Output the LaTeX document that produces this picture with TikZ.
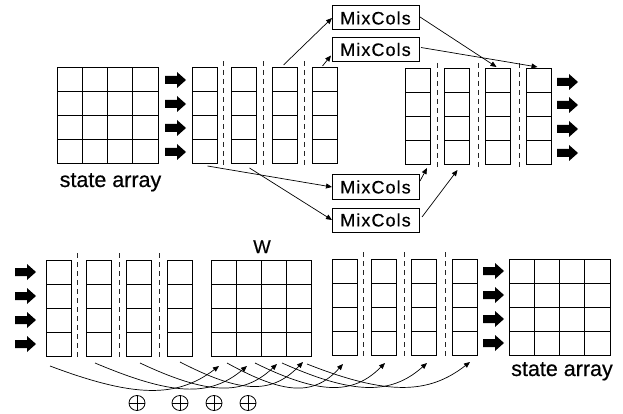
\documentclass[tikz,border=0pt]{standalone}
\usepackage{fontspec}
\setmainfont{Liberation Sans}[FakeBold=0.5]
\usetikzlibrary{arrows.meta,calc}
\begin{document}
\begin{tikzpicture}[x=1pt,y=-1pt,
  colbox/.style={draw, line width=1pt, minimum width=25pt, minimum height=96pt, inner sep=0pt, outer sep=0pt, anchor=north west,
    path picture={\foreach \k in {1,2,3}{\draw[line width=1pt] ($(path picture bounding box.north west)!\k/4!(path picture bounding box.south west)$) -- ($(path picture bounding box.north east)!\k/4!(path picture bounding box.south east)$);}}},
  matbox/.style={draw, line width=1pt, minimum width=101pt, minimum height=96pt, inner sep=0pt, outer sep=0pt, anchor=north west,
    path picture={\foreach \k in {1,2,3}{\draw[line width=1pt] ($(path picture bounding box.north west)!\k/4!(path picture bounding box.south west)$) -- ($(path picture bounding box.north east)!\k/4!(path picture bounding box.south east)$);
      \draw[line width=1pt] ($(path picture bounding box.north west)!\k/4!(path picture bounding box.north east)$) -- ($(path picture bounding box.south west)!\k/4!(path picture bounding box.south east)$);}}},
  mixbox/.style={draw, line width=1pt, minimum width=87pt, minimum height=24pt, inner sep=0pt, outer sep=0pt,
    font=\fontsize{18}{20}\selectfont\addfontfeature{LetterSpace=6}},
  sep/.style={line width=1pt, dash pattern=on 5pt off 4pt, black!85},
  conn/.style={line width=0.7pt, -{Triangle[length=6pt,width=5pt]}},
  satext/.style={font=\fontsize{21.5}{24}\selectfont, anchor=base, inner sep=0pt},
  bigarrow/.pic={\fill (0,-4) -- (12,-4) -- (12,-8) -- (21,0) -- (12,8) -- (12,4) -- (0,4) -- cycle;}
]
\useasboundingbox (0,0) rectangle (623,414);

% ---------- top row ----------
\node[matbox] (sa1) at (57,68) {};
\node[satext] (sa1t) at (110.5,187) {state array};
\foreach \yy in {80,104,128,152} \pic at (165,\yy) {bigarrow};

\node[colbox] (t1) at (192,68) {};
\node[colbox] (t2) at (231,68) {};
\node[colbox] (t3) at (272,68) {};
\node[colbox] (t4) at (312,68) {};
\node[colbox] (t5) at (405,69) {};
\node[colbox] (t6) at (444,69) {};
\node[colbox] (t7) at (485,69) {};
\node[colbox] (t8) at (526,69) {};
\foreach \xx in {223,263,304} \draw[sep] (\xx,61) -- (\xx,167);
\foreach \xx in {437,478,519} \draw[sep] (\xx,63) -- (\xx,168);
\foreach \yy in {82,105,129,153} \pic at (557,\yy) {bigarrow};

\node[mixbox] (m1) at (375.5,18) {MixCols};
\node[mixbox] (m2) at (375.5,49.5) {MixCols};
\node[mixbox] (m3) at (375.5,187) {MixCols};
\node[mixbox] (m4) at (375.5,220) {MixCols};

\draw[conn] ($(t3.north)+(-1,-3)$) -- (m1.west);
\draw[conn] ($(t4.north)+(-2,-2)$) -- ($(m2.south west)+(-1,-6)$);
\draw[conn] ($(m1.east)+(1,-1)$) -- ($(t7.north)+(-1,-2)$);
\draw[conn] ($(m2.east)+(2,-2)$) -- ($(t8.north)+(-1,-2)$);
\draw[conn] ($(t1.south)+(3,2)$) -- (m3.west);
\draw[conn] ($(t2.south)+(6,4)$) -- (m4.west);
\draw[conn] ($(m3.east)+(1,-6)$) -- ($(t5.south east)+(-3,3)$);
\draw[conn] ($(m4.east)+(3,-3)$) -- ($(t6.south)+(1,5)$);

% ---------- bottom row ----------
\foreach \yy in {272,296,320,344} \pic at (15,\yy) {bigarrow};
\node[colbox] (b1) at (46,260) {};
\node[colbox] (b2) at (86,260) {};
\node[colbox] (b3) at (126,260) {};
\node[colbox] (b4) at (167,260) {};
\foreach \xx in {77,119,159} \draw[sep] (\xx,253) -- (\xx,360);
\node[matbox, minimum width=100pt] (W) at (211,260) {};
\node[font=\fontsize{18.5}{20}\selectfont, anchor=base, inner sep=0pt] (Wl) at (262,253) {W};
\node[colbox] (b5) at (332,259) {};
\node[colbox] (b6) at (371,259) {};
\node[colbox] (b7) at (411,259) {};
\node[colbox] (b8) at (452,259) {};
\foreach \xx in {363,404,445} \draw[sep] (\xx,252) -- (\xx,358);
\foreach \yy in {271,295,319,343} \pic at (483,\yy) {bigarrow};
\node[matbox] (sa2) at (509,259) {};
\node[satext] (sa2t) at (562,376) {state array};

% curve end points
\coordinate (s1) at ($(b1.south west)+(4,10)$);
\coordinate (s2) at ($(b2.south west)+(9,7)$);
\coordinate (s3) at ($(b3.south west)+(14,7)$);
\coordinate (s4) at ($(b4.south west)+(13,6)$);
\coordinate (w1) at ($(W.south west)+(8,10)$);
\coordinate (w2) at ($(W.south west)+(36,10)$);
\coordinate (w3) at ($(W.south west)+(66,8)$);
\coordinate (w4) at ($(W.south west)+(92,6)$);
\coordinate (u1) at ($(W.south west)+(16,7)$);
\coordinate (u2) at ($(W.south west)+(44,7)$);
\coordinate (u3) at ($(W.south west)+(71,7)$);
\coordinate (u4) at ($(W.south west)+(96,8)$);
\coordinate (o1) at ($(b5.south west)+(11,9)$);
\coordinate (o2) at ($(b6.south west)+(14,8)$);
\coordinate (o3) at ($(b7.south west)+(16,8)$);
\coordinate (o4) at ($(b8.south west)+(18,7)$);

\draw[conn] (s1) .. controls +(85,32) and +(-42,32) .. (w1);
\draw[conn] (s2) .. controls +(76,32) and +(-38,32) .. (w2);
\draw[conn] (s3) .. controls +(68,32) and +(-34,32) .. (w3);
\draw[conn] (s4) .. controls +(62,32) and +(-31,32) .. (w4);
\draw[conn] (u1) .. controls +(58,32) and +(-29,32) .. (o1);
\draw[conn] (u2) .. controls +(65,32) and +(-32,32) .. (o2);
\draw[conn] (u3) .. controls +(72,32) and +(-36,32) .. (o3);
\draw[conn] (u4) .. controls +(81,32) and +(-41,32) .. (o4);

\foreach \xx in {137,180,214,248} {
  \draw[line width=0.8pt] (\xx,403) ellipse [x radius=8, y radius=7.5];
  \draw[line width=0.8pt] (\xx-8,403) -- (\xx+8,403) (\xx,395.5) -- (\xx,410.5);
}
\end{tikzpicture}
\end{document}
